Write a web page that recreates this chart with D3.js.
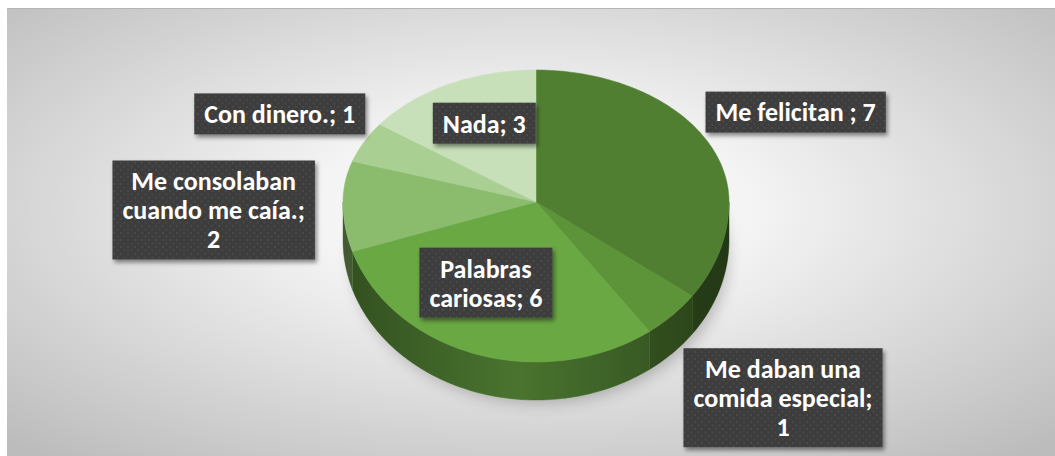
<!DOCTYPE html>
<html>
<head>
<meta charset="utf-8">
<script src="https://cdn.jsdelivr.net/npm/d3@7"></script>
<style>
  html, body { margin: 0; padding: 0; background: #fff; }
  svg { display: block; }
  .lab { font-family: Calibri, Carlito, Lato, sans-serif; font-weight: 700; font-size: 26px; fill: #fff; }
</style>
</head>
<body>
<div id="chart"></div>
<script>
// Chart data
const categories = ['Me felicitan ', 'Me daban una comida especial', 'Palabras cariosas',
                    'Me consolaban cuando me caía.', 'Con dinero.', 'Nada'];
const values = [7, 1, 6, 2, 1, 3];
const colors = ['#507f32', '#5e9439', '#6aa843', '#8bbc6d', '#a9cf92', '#c8e0b9'];

// Layout parameters
let width = 1055, height = 456;
let cx = 536, cy = 202, rx = 193, ryBack = 132, ryFront = 160, depth = 38;
// label anchor, as a multiple of the radius along the slice mid-angle (+ small vertical nudge)
let labFactor = [[1.51, 1.5], [1.81, 1.73], [0.84, 0.53], [1.67, 1], [1.49, 1.47], [0.59, 0.67]];
let labNudge = [0, 0, 0, 8, 0, 0];
let wrapWidth = [260, 192, 150, 192, 260, 260];
let lineH = 29, padX = 10, padY = 9;

let svg = d3.select('#chart').append('svg')
    .attr('width', width)
    .attr('height', height);

let defs = svg.append('defs');

// background radial gradient
let bg = defs.append('radialGradient').attr('id', 'bg')
    .attr('cx', 0.5).attr('cy', 0.45).attr('r', 0.72);
bg.append('stop').attr('offset', 0).attr('stop-color', '#ffffff');
bg.append('stop').attr('offset', 0.3).attr('stop-color', '#f3f3f3');
bg.append('stop').attr('offset', 1).attr('stop-color', '#bcbcbc');

// dotted pattern for the label boxes
let pat = defs.append('pattern').attr('id', 'dots')
    .attr('patternUnits', 'userSpaceOnUse').attr('width', 7).attr('height', 7);
pat.append('rect').attr('width', 7).attr('height', 7).attr('fill', '#3e3e3e');
pat.append('circle').attr('cx', 2).attr('cy', 2).attr('r', 0.9).attr('fill', '#4d4d4d');
pat.append('circle').attr('cx', 5.5).attr('cy', 5.5).attr('r', 0.9).attr('fill', '#484848');

let shadow = defs.append('filter').attr('id', 'boxShadow')
    .attr('x', '-20%').attr('y', '-20%').attr('width', '140%').attr('height', '150%');
shadow.append('feDropShadow').attr('dx', 2).attr('dy', 3).attr('stdDeviation', 2.2)
    .attr('flood-color', '#000').attr('flood-opacity', 0.45);

let blur = defs.append('filter').attr('id', 'pieShadow')
    .attr('x', '-30%').attr('y', '-30%').attr('width', '160%').attr('height', '160%');
blur.append('feGaussianBlur').attr('stdDeviation', 8);

// side shading: darker at the left/right edges
let sideGrad = defs.append('linearGradient').attr('id', 'sideShade')
    .attr('gradientUnits', 'userSpaceOnUse')
    .attr('x1', cx - rx).attr('x2', cx + rx).attr('y1', 0).attr('y2', 0);
sideGrad.append('stop').attr('offset', 0).attr('stop-color', '#000').attr('stop-opacity', 0.35);
sideGrad.append('stop').attr('offset', 0.45).attr('stop-color', '#000').attr('stop-opacity', 0.05);
sideGrad.append('stop').attr('offset', 1).attr('stop-color', '#000').attr('stop-opacity', 0.4);

// Background and border
svg.append('rect')
    .attr('x', 7).attr('y', 8)
    .attr('width', width - 7).attr('height', height - 8)
    .attr('fill', 'url(#bg)');
svg.append('line')
    .attr('x1', 7).attr('x2', width)
    .attr('y1', 8.5).attr('y2', 8.5)
    .attr('stroke', '#b5b5b5');

// Projection of a point on the tilted disc (theta measured clockwise from top)
function proj(theta, r, z) {
    let s = Math.sin(theta), c = -Math.cos(theta);
    let ry = c > 0 ? ryFront : ryBack;
    return [cx + r * rx * s, cy + r * ry * c + z];
}

function arcPoints(a0, a1, z) {
    let n = Math.max(2, Math.ceil((a1 - a0) / 0.02));
    return d3.range(n + 1).map(i => proj(a0 + (a1 - a0) * i / n, 1, z));
}

let line = d3.line();
let color = d3.scaleOrdinal().domain(categories).range(colors);

let pie = d3.pie().sort(null).startAngle(0).endAngle(2 * Math.PI)
    .value(d => d.value);
let data = categories.map((c, i) => ({ cat: c, value: values[i], i: i }));
let arcs = pie(data);

// shadow under the pie
svg.append('ellipse')
    .attr('cx', cx + 4).attr('cy', cy + depth + 16)
    .attr('rx', rx * 0.97).attr('ry', (ryBack + ryFront) / 2)
    .attr('fill', '#000').attr('opacity', 0.25)
    .attr('filter', 'url(#pieShadow)');

// Sides (only the front half is visible)
let gSide = svg.append('g');
arcs.forEach(a => {
    let s0 = Math.max(a.startAngle, Math.PI / 2);
    let s1 = Math.min(a.endAngle, 3 * Math.PI / 2);
    if (s1 <= s0) return;
    let top = arcPoints(s0, s1, 0);
    let bottom = arcPoints(s0, s1, depth).reverse();
    let pts = top.concat(bottom);
    let base = d3.color(color(a.data.cat)).darker(0.9);
    gSide.append('path')
        .attr('d', line(pts) + 'Z')
        .attr('fill', base.formatHex())
        .attr('stroke', base.formatHex())
        .attr('stroke-width', 0.5);
    gSide.append('path')
        .attr('d', line(pts) + 'Z')
        .attr('fill', 'url(#sideShade)');
});

// Top faces
svg.append('g').selectAll('path')
    .data(arcs)
    .enter()
    .append('path')
        .attr('d', a => line([[cx, cy]].concat(arcPoints(a.startAngle, a.endAngle, 0))) + 'Z')
        .attr('fill', a => color(a.data.cat))
        .attr('stroke', a => color(a.data.cat))
        .attr('stroke-width', 0.5);

// Labels
let gLab = svg.append('g');
let measure = gLab.append('text').attr('class', 'lab');
function textW(s) {
    measure.text(s);
    return measure.node().getComputedTextLength();
}
function wrap(str, maxW) {
    let words = str.split(/\s+/).filter(w => w.length);
    let lines = [], cur = '';
    words.forEach(w => {
        let t = cur ? cur + ' ' + w : w;
        if (cur && textW(t) > maxW) {
            lines.push(cur);
            cur = w;
        } else {
            cur = t;
        }
    });
    if (cur) lines.push(cur);
    return lines;
}

arcs.forEach(a => {
    let i = a.data.i;
    let mid = (a.startAngle + a.endAngle) / 2;
    let s = Math.sin(mid), c = -Math.cos(mid);
    let ry = c > 0 ? ryFront : ryBack;
    let lx = cx + labFactor[i][0] * rx * s;
    let ly = cy + labFactor[i][1] * ry * c + labNudge[i];

    let lines = wrap(`${a.data.cat}; ${a.data.value}`, wrapWidth[i]);
    let w = d3.max(lines, textW) + 2 * padX;
    let h = lines.length * lineH + 2 * padY - 6;

    let g = gLab.append('g');
    g.append('rect')
        .attr('x', lx - w / 2).attr('y', ly - h / 2)
        .attr('width', w).attr('height', h)
        .attr('fill', 'url(#dots)')
        .attr('filter', 'url(#boxShadow)');
    g.append('text')
        .attr('class', 'lab')
        .attr('text-anchor', 'middle')
        .selectAll('tspan')
        .data(lines)
        .enter()
        .append('tspan')
            .attr('x', lx)
            .attr('y', (d, k) => ly - (lines.length - 1) * lineH / 2 + k * lineH)
            .attr('dy', '0.36em')
            .text(d => d);
});
measure.remove();
</script>
</body>
</html>
